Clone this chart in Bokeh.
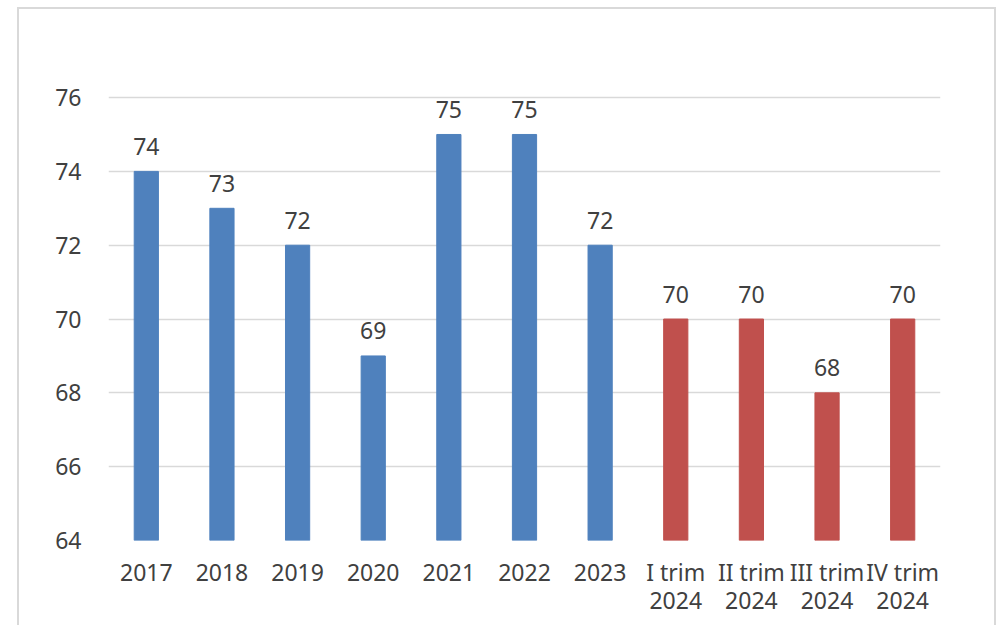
from bokeh.plotting import figure
from bokeh.models import (ColumnDataSource, Range1d, FixedTicker, LinearAxis)
from bokeh.core.properties import value
from bokeh.embed import file_html
from bokeh.resources import INLINE

categories = ["2017", "2018", "2019", "2020", "2021", "2022", "2023",
              "I trim 2024", "II trim 2024", "III trim 2024", "IV trim 2024"]
line1 = ["2017", "2018", "2019", "2020", "2021", "2022", "2023",
         "I trim", "II trim", "III trim", "IV trim"]
line2 = ["", "", "", "", "", "", "", "2024", "2024", "2024", "2024"]
values = [74, 73, 72, 69, 75, 75, 72, 70, 70, 68, 70]
colors = ["#4F81BD"] * 7 + ["#C0504D"] * 4
y_ticks = [64, 66, 68, 70, 72, 74, 76]

FONT = "Noto Sans"
TXT = "#404040"
FS = "23px"

pos = list(range(len(categories)))
src = ColumnDataSource(dict(x=pos, cat=categories, val=values, col=colors,
                            lab=[str(v) for v in values]))

p = figure(width=975, height=616, output_backend="svg", toolbar_location=None,
           x_range=Range1d(-0.5, len(categories) - 0.5),
           y_range=Range1d(64, 76.3),
           min_border_left=89, min_border_right=58,
           min_border_top=77, min_border_bottom=87)
p.styles = {"margin-left": "17px", "margin-top": "7px",
            "border-left": "2px solid #d9d9d9", "border-top": "2px solid #d9d9d9",
            "border-right": "2px solid #d9d9d9", "box-sizing": "content-box"}
p.outline_line_color = None
p.background_fill_color = "white"

p.vbar(x="x", top="val", bottom=64, width=0.32, fill_color="col",
       line_color="col", source=src)
p.text(x="x", y="val", text="lab", source=src, text_align="center",
       text_baseline="middle", y_offset=-25, text_font=value(FONT),
       text_font_size=FS, text_color=TXT)

p.yaxis.ticker = FixedTicker(ticks=y_ticks)
p.ygrid.ticker = FixedTicker(ticks=y_ticks)
p.xgrid.grid_line_color = None
p.ygrid.grid_line_color = "#d9d9d9"
p.ygrid.grid_line_width = 1.5

ax1 = p.xaxis[0]
ax1.ticker = FixedTicker(ticks=pos)
ax1.major_label_overrides = dict(zip(pos, line1))
ax1.major_label_standoff = 9

ax2 = LinearAxis(ticker=FixedTicker(ticks=pos))
ax2.major_label_overrides = dict(zip(pos, line2))
ax2.major_label_standoff = -5
p.add_layout(ax2, "below")

for ax in (ax1, ax2, p.yaxis[0]):
    ax.axis_line_color = None
    ax.major_tick_line_color = None
    ax.minor_tick_line_color = None
    ax.major_label_text_font = FONT
    ax.major_label_text_font_size = FS
    ax.major_label_text_color = TXT
p.yaxis.major_label_standoff = 21

open("out.html", "w").write(file_html(p, INLINE))
